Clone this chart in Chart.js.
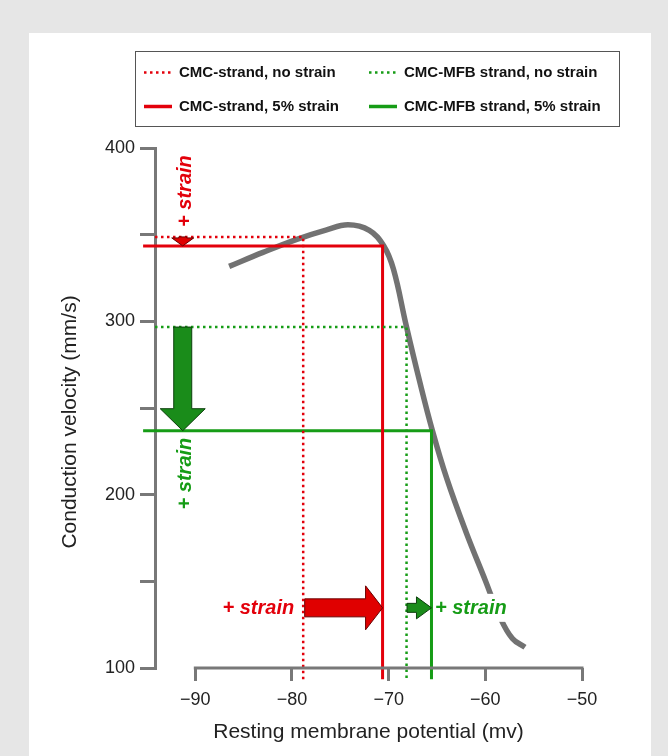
<!DOCTYPE html>
<html>
<head>
<meta charset="utf-8">
<script src="https://cdn.jsdelivr.net/npm/chart.js@4.4.1/dist/chart.umd.min.js"></script>
<style>
    html, body { margin: 0; padding: 0; background: #e6e6e6; }
    #wrap { width: 668px; height: 756px; }
</style>
</head>
<body>
<div id="wrap"><canvas id="cvChart" width="668" height="756"></canvas></div>
<script>
(function () {
    "use strict";

    //------------------------------ data --------------------------
    // grey CV / RMP relation
    var rmpValues = [-86.5, -83.0, -79.5, -76.5, -74.2, -72.0, -70.5, -69.5, -68.2, -66.8, -65.5, -64.0, -62.0, -60.0, -58.5, -57.2, -55.9];
    var cvValues = [331.7, 339.8, 347.3, 352.6, 355.7, 352.5, 343.5, 330.0, 298.0, 265.5, 237.5, 209.5, 178.5, 150.5, 129.5, 117.0, 112.0];

    // the four strand cases (legend order: row by row)
    var seriesLabels = ['CMC-strand, no strain', 'CMC-MFB strand, no strain', 'CMC-strand, 5% strain', 'CMC-MFB strand, 5% strain'];
    var seriesRmp = [-78.84, -68.15, -70.63, -65.57];
    var seriesCv = [348.7, 296.7, 343.5, 236.9];
    var seriesStartRmp = [-94.17, -94.17, -95.4, -95.4];
    var seriesDotted = [true, true, false, false];
    var seriesColors = ['#e3000b', '#169c16', '#e3000b', '#169c16'];
    var lineBottomCv = 93.5;

    var xTickValues = [-90, -80, -70, -60, -50];
    var yTickValues = [100, 150, 200, 250, 300, 350, 400];
    var yLabelValues = [100, 200, 300, 400];

    var xTitle = 'Resting membrane potential (mv)';
    var yTitle = 'Conduction velocity (mm/s)';

    // where the "+ strain" arrows sit
    var arrowColumnRmp = -91.3;
    var arrowRowCv = 134.7;
    var strainText = '+ strain';

    var axisColor = '#787878';
    var fontFamily = "'Liberation Sans', Arial, sans-serif";
    Chart.defaults.font.family = fontFamily;

    //------------------------------ datasets --------------------------
    var datasets = [];
    for (var i = 0; i < seriesLabels.length; i++) {
        datasets.push({
            label: seriesLabels[i],
            data: [
                { x: seriesStartRmp[i], y: seriesCv[i] },
                { x: seriesRmp[i], y: seriesCv[i] },
                { x: seriesRmp[i], y: lineBottomCv }
            ],
            borderColor: seriesColors[i],
            borderWidth: seriesDotted[i] ? 2.5 : 3,
            borderDash: seriesDotted[i] ? [2.5, 3.5] : [],
            borderJoinStyle: 'miter',
            pointRadius: 0,
            tension: 0,
            fill: false,
            clip: false,
            order: 0
        });
    }
    datasets.push({
        label: 'curve',
        showInLegend: false,
        data: rmpValues.map(function (v, k) { return { x: v, y: cvValues[k] }; }),
        borderColor: '#727272',
        borderWidth: 5.5,
        tension: 0.4,
        pointRadius: 0,
        fill: false,
        clip: false,
        order: 1
    });

    //------------------------------ plugins --------------------------
    // grey frame + white panel
    var panelPlugin = {
        id: 'panel',
        beforeDraw: function (chart) {
            var ctx = chart.ctx;
            ctx.save();
            ctx.fillStyle = '#e6e6e6';
            ctx.fillRect(0, 0, chart.width, chart.height);
            ctx.fillStyle = '#ffffff';
            ctx.fillRect(29, 33, 622, chart.height - 33);
            ctx.restore();
        }
    };

    // x axis line only spans the labelled range, y title sits a bit low
    var axisExtrasPlugin = {
        id: 'axisExtras',
        afterDraw: function (chart) {
            var ctx = chart.ctx, xs = chart.scales.x;
            var y = chart.chartArea.bottom;
            ctx.save();
            ctx.strokeStyle = axisColor;
            ctx.lineWidth = 3;
            ctx.beginPath();
            ctx.moveTo(xs.getPixelForValue(xTickValues[0]) - 1.5, y);
            ctx.lineTo(xs.getPixelForValue(xTickValues[xTickValues.length - 1]) + 1.5, y);
            ctx.stroke();

            ctx.translate(70, 422);
            ctx.rotate(-Math.PI / 2);
            ctx.font = '21px ' + fontFamily;
            ctx.fillStyle = '#222';
            ctx.textAlign = 'center';
            ctx.textBaseline = 'middle';
            ctx.fillText(yTitle, 0, 0);
            ctx.restore();
        }
    };

    // boxed legend, 2 columns
    var boxLegendPlugin = {
        id: 'boxLegend',
        afterDraw: function (chart) {
            var ctx = chart.ctx;
            var colX = [144, 369], rowY = [72.5, 106.5];
            ctx.save();
            ctx.strokeStyle = '#555';
            ctx.lineWidth = 1;
            ctx.strokeRect(135.5, 51.5, 484, 75);
            ctx.font = 'bold 15px ' + fontFamily;
            ctx.textBaseline = 'middle';
            ctx.fillStyle = '#111';
            var n = 0;
            chart.data.datasets.forEach(function (ds) {
                if (ds.showInLegend === false) return;
                var x = colX[n % 2], y = rowY[Math.floor(n / 2)];
                ctx.save();
                ctx.strokeStyle = ds.borderColor;
                ctx.lineWidth = ds.borderDash.length ? 2.5 : 3.5;
                ctx.setLineDash(ds.borderDash);
                ctx.beginPath();
                ctx.moveTo(x, y);
                ctx.lineTo(x + 28, y);
                ctx.stroke();
                ctx.restore();
                ctx.fillText(ds.label, x + 35, y + 0.5);
                n++;
            });
            ctx.restore();
        }
    };

    function drawArrow(ctx, x1, y1, x2, y2, shaftW, headW, headL, fill, stroke) {
        var ang = Math.atan2(y2 - y1, x2 - x1);
        var len = Math.sqrt((x2 - x1) * (x2 - x1) + (y2 - y1) * (y2 - y1));
        ctx.save();
        ctx.translate(x1, y1);
        ctx.rotate(ang);
        ctx.beginPath();
        ctx.moveTo(0, -shaftW / 2);
        ctx.lineTo(len - headL, -shaftW / 2);
        ctx.lineTo(len - headL, -headW / 2);
        ctx.lineTo(len, 0);
        ctx.lineTo(len - headL, headW / 2);
        ctx.lineTo(len - headL, shaftW / 2);
        ctx.lineTo(0, shaftW / 2);
        ctx.closePath();
        ctx.fillStyle = fill;
        ctx.fill();
        ctx.strokeStyle = stroke;
        ctx.lineWidth = 1;
        ctx.stroke();
        ctx.restore();
    }

    // "+ strain" arrows and labels, from no strain -> 5% strain
    var strainArrowPlugin = {
        id: 'strainArrows',
        afterDatasetsDraw: function (chart) {
            var ctx = chart.ctx, xs = chart.scales.x, ys = chart.scales.y;
            var red = '#e3000b', green = '#169c16';
            var colX = xs.getPixelForValue(arrowColumnRmp);
            var rowY = ys.getPixelForValue(arrowRowCv);

            // vertical (conduction velocity drop)
            drawArrow(ctx, colX, ys.getPixelForValue(seriesCv[0]), colX, ys.getPixelForValue(seriesCv[2]), 8, 22, 8, '#e00000', '#6a0000');
            drawArrow(ctx, colX, ys.getPixelForValue(seriesCv[1]), colX, ys.getPixelForValue(seriesCv[3]), 18, 45, 22, '#1a8c1a', '#0c3f0c');
            // horizontal (depolarisation)
            drawArrow(ctx, xs.getPixelForValue(seriesRmp[0]) + 1.5, rowY, xs.getPixelForValue(seriesRmp[2]), rowY, 18, 44, 17, '#e00000', '#6a0000');
            drawArrow(ctx, xs.getPixelForValue(seriesRmp[1]) + 0.5, rowY, xs.getPixelForValue(seriesRmp[3]), rowY, 9, 22, 15, '#1a8c1a', '#0c3f0c');

            ctx.save();
            ctx.font = 'italic bold 20px ' + fontFamily;
            ctx.textBaseline = 'middle';

            // vertical labels
            ctx.save();
            ctx.translate(colX + 2.5, ys.getPixelForValue(seriesCv[0]) - 10);
            ctx.rotate(-Math.PI / 2);
            ctx.textAlign = 'left';
            ctx.fillStyle = red;
            ctx.fillText(strainText, 0, 0);
            ctx.restore();

            ctx.save();
            ctx.translate(colX + 2.5, ys.getPixelForValue(seriesCv[3]) + 7);
            ctx.rotate(-Math.PI / 2);
            ctx.textAlign = 'right';
            ctx.fillStyle = green;
            ctx.fillText(strainText, 0, 0);
            ctx.restore();

            // horizontal labels
            ctx.textAlign = 'right';
            ctx.fillStyle = red;
            ctx.fillText(strainText, xs.getPixelForValue(seriesRmp[0]) - 9, rowY + 1);

            var gx = xs.getPixelForValue(seriesRmp[3]) + 3.5;
            var w = ctx.measureText(strainText).width;
            ctx.fillStyle = '#ffffff';
            ctx.fillRect(gx, rowY - 14, w + 4, 28);
            ctx.textAlign = 'left';
            ctx.fillStyle = green;
            ctx.fillText(strainText, gx, rowY + 1);
            ctx.restore();
        }
    };

    //------------------------------ chart --------------------------
    var cv = document.getElementById("cvChart").getContext('2d');
    var chart = new Chart(cv, {
        type: 'line',
        data: { datasets: datasets },
        options: {
            responsive: false,
            animation: false,
            devicePixelRatio: 1,
            layout: { padding: { left: 0, right: 86, top: 148, bottom: 0 } },
            plugins: {
                legend: { display: false },
                tooltip: { enabled: false }
            },
            scales: {
                x: {
                    type: 'linear',
                    min: -94.17,
                    max: -50,
                    afterBuildTicks: function (scale) {
                        scale.ticks = xTickValues.map(function (v) { return { value: v }; });
                    },
                    afterFit: function (scale) { scale.height = 88; },
                    border: { display: false },
                    grid: { drawOnChartArea: false, drawTicks: true, tickLength: 13, color: axisColor, lineWidth: 3 },
                    ticks: {
                        color: '#222',
                        font: { size: 18 },
                        padding: 8,
                        maxRotation: 0,
                        callback: function (value) { return (value < 0 ? '\u2212' : '') + Math.abs(value); }
                    },
                    title: {
                        display: true,
                        text: xTitle,
                        color: '#222',
                        font: { size: 21 },
                        padding: { top: 0, bottom: 11 }
                    }
                },
                y: {
                    min: 100,
                    max: 400,
                    afterBuildTicks: function (scale) {
                        scale.ticks = yTickValues.map(function (v) { return { value: v }; });
                    },
                    afterFit: function (scale) { scale.width = 155; },
                    border: { display: true, color: axisColor, width: 3 },
                    grid: { drawOnChartArea: false, drawTicks: true, tickLength: 15, color: axisColor, lineWidth: 3 },
                    ticks: {
                        color: '#222',
                        font: { size: 18 },
                        padding: 5,
                        callback: function (value) { return yLabelValues.indexOf(value) >= 0 ? String(value) : ''; }
                    },
                    title: { display: false }
                }
            }
        },
        plugins: [panelPlugin, axisExtrasPlugin, boxLegendPlugin, strainArrowPlugin]
    });
})();
</script>
</body>
</html>
